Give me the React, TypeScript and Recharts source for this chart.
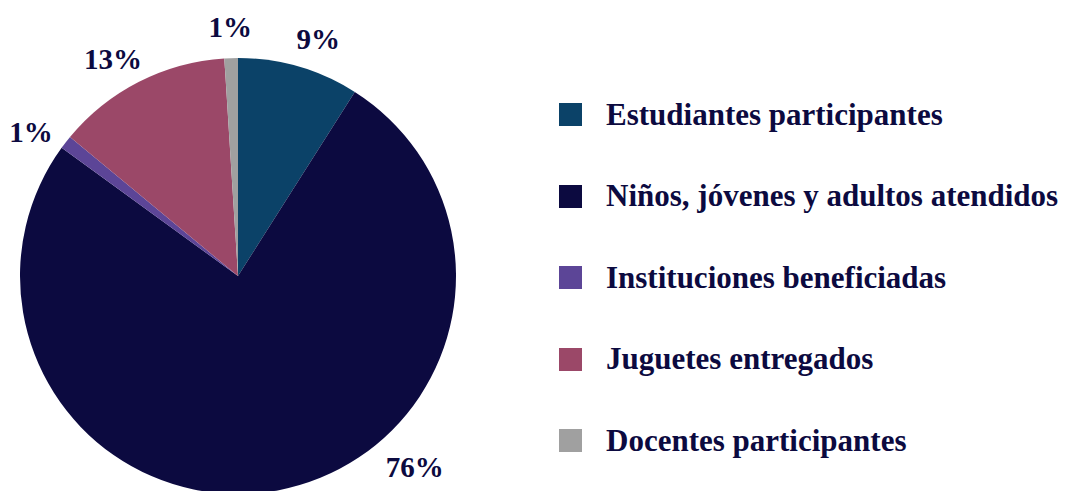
import { PieChart, Pie, Cell, Legend } from 'recharts'

const categories = [
  'Estudiantes participantes',
  'Niños, jóvenes y adultos atendidos',
  'Instituciones beneficiadas',
  'Juguetes entregados',
  'Docentes participantes',
]
const shares = [9, 76, 1, 13, 1]

const COLORS = ['#0b4268', '#0c0a40', '#5c4597', '#9b4868', '#a0a0a0']
const TEXT = '#0c0a40'
const FONT = '"Liberation Serif", "DejaVu Serif", serif'

// small nudges so labels sit where the original put them
const LABEL_SHIFT = [-2.5, 32, 3, 3, 0]
const LABEL_GAP = [32, 42, 34, 32, 31]
const RADIAN = Math.PI / 180

const data = categories.map((name, i) => ({ name, value: shares[i] }))

function renderLabel(props: any) {
  const { cx, cy, midAngle, outerRadius, percent, index } = props
  const a = (midAngle + LABEL_SHIFT[index]) * RADIAN
  const r = outerRadius + LABEL_GAP[index]
  const x = cx + r * Math.cos(a)
  const y = cy - r * Math.sin(a)
  return (
    <text
      x={x}
      y={y}
      textAnchor="middle"
      dominantBaseline="central"
      fill={TEXT}
      fontFamily={FONT}
      fontWeight="bold"
      fontSize={29}
    >
      {`${Math.round(percent * 100)}%`}
    </text>
  )
}

function LegendList() {
  return (
    <div style={{ fontFamily: FONT }}>
      {categories.map((name, i) => (
        <div
          key={name}
          style={{ display: 'flex', alignItems: 'center', height: 81.5 }}
        >
          <span
            style={{
              display: 'inline-block',
              width: 23,
              height: 23,
              background: COLORS[i],
              marginRight: 24,
            }}
          />
          <span style={{ color: TEXT, fontWeight: 'bold', fontSize: 31 }}>{name}</span>
        </div>
      ))}
    </div>
  )
}

export default function App() {
  return (
    <div style={{ position: 'absolute', left: 0, top: 0, background: '#fff' }}>
      <PieChart width={1075} height={491} margin={{ top: 0, right: 0, bottom: 0, left: 0 }}>
        <Pie
          data={data}
          dataKey="value"
          nameKey="name"
          cx={238}
          cy={276}
          outerRadius={218}
          startAngle={90}
          endAngle={-270}
          stroke="none"
          label={renderLabel}
          labelLine={false}
          isAnimationActive={false}
        >
          {data.map((entry, i) => (
            <Cell key={`cell-${i}`} fill={COLORS[i]} />
          ))}
        </Pie>
        <Legend
          content={<LegendList />}
          wrapperStyle={{ left: 559, top: 74, width: 516 }}
        />
      </PieChart>
    </div>
  )
}
